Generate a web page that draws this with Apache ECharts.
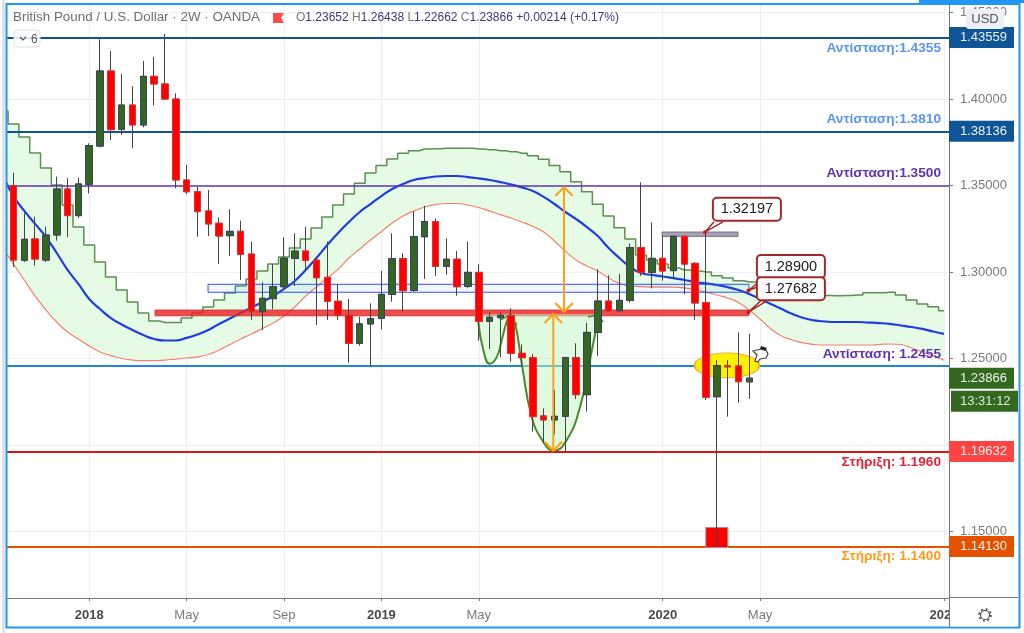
<!DOCTYPE html>
<html>
<head>
<meta charset="utf-8">
<title>GBPUSD 2W</title>
<script src="https://cdn.jsdelivr.net/npm/echarts@6/dist/echarts.min.js"></script>
<style>
html, body { margin: 0; padding: 0; background: #fff; }
#main { width: 1024px; height: 633px; }
</style>
</head>
<body>
<div id="main"></div>
<script>
// two-week candles, x is the bar number
var opens = [1.3499,1.3068,1.3191,1.3069,1.3214,1.3480,1.3326,1.3507,1.3728,1.4162,1.3825,1.3965,1.3850,1.4131,1.4087,1.4000,1.3532,1.3464,1.3353,1.3282,1.3210,1.3235,1.3104,1.2771,1.2846,1.2915,1.3079,1.3121,1.3068,1.2969,1.2831,1.2750,1.2588,1.2700,1.2732,1.2871,1.3077,1.2894,1.3204,1.3291,1.3033,1.3074,1.2917,1.2998,1.2715,1.2736,1.2748,1.2530,1.2505,1.2168,1.2145,1.2166,1.2505,1.2291,1.2651,1.2832,1.2776,1.2836,1.3141,1.2998,1.3079,1.3008,1.3206,1.3050,1.2823,1.2279,1.2458,1.2457,1.23652];
var closes = [1.3069,1.3189,1.3075,1.3214,1.3480,1.3326,1.3509,1.3730,1.4162,1.3823,1.3965,1.3850,1.4131,1.4087,1.4000,1.3532,1.3464,1.3349,1.3278,1.3208,1.3235,1.3102,1.2775,1.2848,1.2915,1.3079,1.3121,1.3068,1.2967,1.2831,1.2752,1.2588,1.2700,1.2730,1.2871,1.3077,1.2892,1.3204,1.3291,1.3033,1.3074,1.2915,1.2998,1.2715,1.2738,1.2750,1.2530,1.2505,1.2164,1.2145,1.2166,1.2505,1.2291,1.2651,1.2832,1.2776,1.2836,1.3141,1.2998,1.3079,1.3006,1.3206,1.3046,1.2821,1.2276,1.2458,1.2452,1.2366,1.23866];
var lows = [1.3029,1.3058,1.3037,1.3058,1.3181,1.3201,1.3312,1.3455,1.3721,1.3763,1.3792,1.3715,1.3836,1.3964,1.3994,1.3484,1.3449,1.3204,1.3208,1.3046,1.3093,1.2954,1.2723,1.2665,1.2784,1.2896,1.2919,1.3012,1.2694,1.2723,1.2723,1.2476,1.2574,1.2457,1.2669,1.2828,1.2775,1.2886,1.2960,1.2977,1.2984,1.2863,1.2906,1.2603,1.2555,1.2507,1.2482,1.2453,1.2077,1.2010,1.2062,1.1961,1.2266,1.2193,1.2516,1.2771,1.2776,1.2823,1.2977,1.2906,1.2950,1.2964,1.2871,1.2723,1.2260,1.1412,1.2164,1.2245,1.22662];
var highs = [1.3574,1.3341,1.3320,1.3262,1.3551,1.3543,1.3545,1.3744,1.4345,1.4279,1.4145,1.4075,1.4220,1.4245,1.4376,1.4033,1.3619,1.3493,1.3474,1.3316,1.3363,1.3297,1.3175,1.2941,1.3045,1.3201,1.3224,1.3262,1.3085,1.3175,1.2929,1.2844,1.2742,1.2819,1.3006,1.3224,1.3108,1.3353,1.3382,1.3310,1.3195,1.3121,1.3175,1.3045,1.2767,1.2765,1.2790,1.2582,1.2526,1.2212,1.2318,1.2510,1.2588,1.2707,1.3016,1.2981,1.2989,1.3166,1.3519,1.3287,1.3210,1.3210,1.3210,1.3056,1.3224,1.2491,1.2491,1.2651,1.26438];

// channel lines, first value is bar -1 (runs off the left edge)
var midLine = [1.3561,1.3439,1.3353,1.3278,1.3202,1.3110,1.3012,1.2931,1.2844,1.2786,1.2734,1.2697,1.2665,1.2636,1.2613,1.2604,1.2604,1.2619,1.2639,1.2665,1.2700,1.2731,1.2763,1.2795,1.2827,1.2861,1.2902,1.2948,1.3012,1.3081,1.3156,1.3226,1.3289,1.3347,1.3393,1.3439,1.3480,1.3509,1.3532,1.3543,1.3552,1.3555,1.3555,1.3549,1.3541,1.3532,1.3520,1.3506,1.3489,1.3468,1.3434,1.3393,1.3347,1.3306,1.3260,1.3208,1.3139,1.3081,1.3029,1.2994,1.2983,1.2974,1.2965,1.2954,1.2942,1.2934,1.2925,1.2913,1.2896,1.2873,1.2844,1.2815,1.2786,1.2757,1.2734,1.2720,1.2714,1.2711,1.2711,1.2711,1.2708,1.2705,1.2700,1.2691,1.2682,1.2671,1.2656,1.2642];
var upperLine = [1.3931,1.3856,1.3780,1.3688,1.3601,1.3503,1.3387,1.3260,1.3156,1.3058,1.2971,1.2896,1.2827,1.2763,1.2717,1.2708,1.2708,1.2734,1.2763,1.2798,1.2838,1.2879,1.2919,1.2960,1.3006,1.3046,1.3087,1.3139,1.3191,1.3254,1.3318,1.3387,1.3451,1.3513,1.3572,1.3615,1.3653,1.3686,1.3701,1.3711,1.3713,1.3715,1.3715,1.3715,1.3711,1.3707,1.3701,1.3695,1.3686,1.3672,1.3652,1.3615,1.3580,1.3522,1.3464,1.3391,1.3324,1.3256,1.3191,1.3098,1.3069,1.3046,1.3023,1.3012,1.3006,1.3000,1.2979,1.2965,1.2950,1.2942,1.2931,1.2913,1.2899,1.2887,1.2876,1.2867,1.2864,1.2863,1.2864,1.2867,1.2880,1.2880,1.2883,1.2867,1.2838,1.2815,1.2799,1.2776];
var lowerLine = [1.3139,1.3046,1.2954,1.2861,1.2780,1.2711,1.2653,1.2613,1.2572,1.2538,1.2517,1.2500,1.2491,1.2488,1.2488,1.2491,1.2497,1.2503,1.2509,1.2523,1.2549,1.2581,1.2613,1.2642,1.2673,1.2705,1.2746,1.2798,1.2861,1.2913,1.2965,1.3017,1.3081,1.3133,1.3185,1.3234,1.3283,1.3324,1.3353,1.3376,1.3390,1.3396,1.3396,1.3387,1.3373,1.3353,1.3332,1.3312,1.3289,1.3263,1.3231,1.3179,1.3121,1.3069,1.3035,1.3006,1.2965,1.2934,1.2919,1.2916,1.2913,1.2913,1.2913,1.2908,1.2896,1.2884,1.2867,1.2850,1.2824,1.2780,1.2728,1.2671,1.2630,1.2607,1.2590,1.2581,1.2578,1.2578,1.2578,1.2578,1.2578,1.2581,1.2584,1.2581,1.2561,1.2538,1.2515,1.2491];

// horizontal levels and their notes
var levels = [1.43559,1.38136,1.35,1.2457,1.19632,1.1413];
var levelColors = ['#0d5596','#0d5596','#5e35b1','#1f86d8','#df1414','#e65100'];
var notes = ['Αντίσταση:1.4355','Αντίσταση:1.3810','Αντίσταση:1.3500','Αντίσταση: 1.2455','Στήριξη: 1.1960','Στήριξη: 1.1400'];
var noteColors = ['#5b96ee','#5b96ee','#5e35b1','#5e35b1','#e0253a','#ff9a18'];
var noteOffsets = [11,-12,-12,-12,11,10];

// price tags on the axis
var tagValues = [1.43559,1.38136,1.23866,1.19632,1.1413];
var tagColors = ['#0d5596','#0d5596','#33691e','#ff4444','#e65100'];
var countdown = '13:31:12';

// time axis
var xTicks = [7,16,25,34,43,60,69,86];
var xTickLabels = ['2018','May','Sep','2019','May','2020','May','2021'];
// 1.20000 sits under the red tag, so it has a grid line but no label
var yTicks = [1.15,1.2,1.25,1.3,1.35,1.4,1.45];
var yLabels = [1.15,1.25,1.3,1.35,1.4,1.45];

// drawn objects, in [bar, price]
var smallCup = [[42.96,1.2712],[43.42,1.2549],[44.01,1.2470],[44.66,1.2508],[45.12,1.2606],[45.58,1.2712],[45.89,1.2755]];
var bigCup = [[45.9,1.2757],[46.35,1.2705],[46.97,1.2472],[47.89,1.2164],[48.96,1.2019],[49.93,1.1967],[51.13,1.2029],[52.36,1.2220],[53.28,1.2491],[54.02,1.2734]];
var gap = [null,null];
var cupHeads = [[44.96,1.2722],[45.88,1.2751],[46.53,1.2694],gap,[53.1,1.2740],[54.0,1.2751],[54.5,1.2711]];
var orangeArrows = [
    [49.89,1.2757],[49.89,1.1967],gap,
    [49.09,1.2705],[49.89,1.2757],[50.69,1.2705],gap,
    [49.09,1.2019],[49.89,1.1967],[50.69,1.2019],gap,
    [50.88,1.3491],[50.88,1.2769],gap,
    [50.08,1.3439],[50.88,1.3491],[51.68,1.3439],gap,
    [50.08,1.2821],[50.88,1.2769],[51.68,1.2821]
];
var zones = [
    {x: [13.08,67.97], y: [1.2780,1.2747], fill: 'rgba(240,30,30,0.8)', edge: '#c83c3c'},
    {x: [17.98,67.97], y: [1.2929,1.2883], fill: 'rgba(70,100,255,0.06)', edge: '#3050ff'},
    {x: [59.94,66.96], y: [1.3231,1.3206], fill: '#a8a0b8', edge: '#77727f'}
];
var ellipseAt = [65.94,1.2460];
var squareAt = [65,1.1465];
var calloutValues = ['1.32197','1.28900','1.27682'];
var calloutAt = [[63.9,1.3230],[67.92,1.2893],[67.92,1.2768]];
var calloutOffsets = [[42,-23],[42.5,-24],[42.5,-23.5]];
var calloutStems = [
    [64.74,1.3290],[63.9,1.3230],[65.57,1.3290],gap,
    [68.8,1.2938],[67.92,1.2893],[68.8,1.2915],gap,
    [69.15,1.2838],[67.92,1.2768],[69.74,1.2838]
];

var yMin = 1.11157, yMax = 1.45492;
var xMin = -0.6, xMax = 86.46;

function byBar(list) {
    return list.map(function (v, i) { return [i - 1, v]; });
}

var candleRows = opens.map(function (o, i) { return [i, o, closes[i], lows[i], highs[i]]; });
var bodyRows = opens.map(function (o, i) {
    return [i, o, closes[i], Math.min(o, closes[i]), Math.max(o, closes[i])];
});

// one slice of cloud per bar: flat on top like the step line, sloped along the lower line
var cloudRows = upperLine.map(function (v, i) {
    var before = i > 0 ? lowerLine[i - 1] : lowerLine[i];
    var after = i < lowerLine.length - 1 ? lowerLine[i + 1] : lowerLine[i];
    return [i - 1, v, (lowerLine[i] + before) / 2, (lowerLine[i] + after) / 2, i < lowerLine.length - 1 ? 0.5 : 0];
});

function renderCloud(params, api) {
    var bar = api.value(0);
    var a = api.coord([bar - 0.5, api.value(1)]);
    var b = api.coord([bar + api.value(4), api.value(1)]);
    var c = api.coord([bar + api.value(4), api.value(3)]);
    var d = api.coord([bar - 0.5, api.value(2)]);
    return {
        type: 'polygon',
        shape: { points: [a, b, c, d] },
        style: { fill: '#e6fbe6', stroke: '#e6fbe6', lineWidth: 0.6 }
    };
}

var myChart = echarts.init(document.getElementById('main'));

var option = {
    animation: false,
    textStyle: { fontFamily: 'Liberation Sans' },
    title: [
        {
            text: 'British Pound / U.S. Dollar · 2W · OANDA',
            left: 13, top: 11, padding: 0,
            textStyle: { fontSize: 13.4, fontWeight: 'normal', color: '#6e6e6e', fontFamily: 'Liberation Sans' }
        },
        {
            text: '{k|O}{v|1.23652} {k|H}{v|1.26438} {k|L}{v|1.22662} {k|C}{v|1.23866} {v|+0.00214 (+0.17%)}',
            left: 296, top: 12, padding: 0,
            textStyle: {
                fontSize: 12, fontWeight: 'normal', fontFamily: 'Liberation Sans',
                rich: {
                    k: { color: '#777', fontSize: 12, fontFamily: 'Liberation Sans' },
                    v: { color: '#3f3a78', fontSize: 12, fontFamily: 'Liberation Sans' }
                }
            }
        }
    ],
    grid: { left: 7, right: 75, top: 4, bottom: 35 },
    xAxis: {
        type: 'value',
        min: xMin,
        max: xMax,
        axisLine: { onZero: false, lineStyle: { color: '#777', width: 1 } },
        axisTick: { length: 3, lineStyle: { color: '#777' }, customValues: xTicks },
        splitLine: { show: true, lineStyle: { color: '#e8eff6', width: 1 } },
        axisLabel: {
            customValues: xTicks,
            margin: 11,
            fontSize: 13,
            formatter: function (v) {
                var t = xTickLabels[xTicks.indexOf(v)];
                return /^\d/.test(t) ? '{y|' + t + '}' : '{m|' + t + '}';
            },
            rich: {
                y: { fontWeight: 'bold', color: '#4a4a4a', fontSize: 13, fontFamily: 'Liberation Sans' },
                m: { color: '#7b7b7b', fontSize: 13, fontFamily: 'Liberation Sans' }
            }
        }
    },
    yAxis: {
        type: 'value',
        position: 'right',
        min: yMin,
        max: yMax,
        axisLine: { show: true, onZero: false, lineStyle: { color: '#777', width: 1 } },
        axisTick: { show: true, length: 4, lineStyle: { color: '#777' }, customValues: yTicks },
        splitLine: { show: true, lineStyle: { color: '#eef2f7', width: 1 } },
        axisLabel: {
            customValues: yLabels,
            margin: 11,
            fontSize: 13,
            color: '#7b7b7b',
            formatter: function (v) { return v.toFixed(5); }
        }
    },
    series: [
        {
            type: 'custom', z: 2, clip: true, silent: true, renderItem: renderCloud,
            encode: { x: 0, y: 1 }, data: cloudRows
        },
        {
            type: 'line', step: 'middle', z: 3, symbol: 'none',
            lineStyle: { color: '#5d9050', width: 1.5 }, data: byBar(upperLine)
        },
        {
            type: 'line', smooth: true, z: 3, symbol: 'none',
            lineStyle: { color: '#f58070', width: 1.2 }, data: byBar(lowerLine)
        },
        {
            type: 'line', smooth: true, z: 3, symbol: 'none',
            lineStyle: { color: '#1e3de0', width: 2.2 }, data: byBar(midLine)
        },
        // levels and zones
        {
            type: 'line', z: 4, symbol: 'none', data: [],
            markLine: {
                z: 4, silent: true, symbol: 'none', animation: false, precision: 5,
                label: { show: false },
                data: levels.map(function (v, i) {
                    return { yAxis: v, lineStyle: { color: levelColors[i], width: i == 2 ? 1.6 : 2, type: 'solid' } };
                })
            },
            markArea: {
                z: 4, silent: true, animation: false,
                data: zones.map(function (b) {
                    return [
                        { coord: [b.x[0], b.y[0]], itemStyle: { color: b.fill, borderColor: b.edge, borderWidth: 1 } },
                        { coord: [b.x[1], b.y[1]] }
                    ];
                })
            }
        },
        // the two cups
        {
            type: 'line', smooth: true, z: 4, symbol: 'none', data: smallCup,
            lineStyle: { color: '#4a8a2a', width: 2 },
            areaStyle: { color: 'rgba(195,245,195,0.75)', origin: 1.2757 }
        },
        {
            type: 'line', smooth: true, z: 4, symbol: 'none', data: bigCup,
            lineStyle: { color: '#4a8a2a', width: 2 },
            areaStyle: { color: 'rgba(195,245,195,0.75)', origin: 1.2757 }
        },
        {
            type: 'line', z: 4, symbol: 'none', data: cupHeads,
            lineStyle: { color: '#4a8a2a', width: 1.5 }
        },
        {
            type: 'scatter', z: 5, symbol: 'circle', symbolSize: [65, 25], data: [ellipseAt],
            itemStyle: { color: '#ffef00', borderColor: '#f0a030', borderWidth: 1, opacity: 1 }
        },
        {
            type: 'scatter', z: 5, symbol: 'rect', symbolSize: [22, 20], data: [squareAt],
            itemStyle: { color: '#ff0000', borderColor: '#b98a8a', borderWidth: 1, opacity: 1 }
        },
        // candles: first pass gives the dark wicks, second pass the bodies
        {
            type: 'candlestick', z: 6, barWidth: 7, data: candleRows,
            encode: { x: 0, y: [1, 2, 3, 4] },
            itemStyle: { color: '#33691e', color0: '#ff0000', borderColor: '#444', borderColor0: '#444', borderWidth: 1 }
        },
        {
            type: 'candlestick', z: 6, barWidth: 7, data: bodyRows,
            encode: { x: 0, y: [1, 2, 3, 4] },
            itemStyle: { color: '#33691e', color0: '#ff0000', borderColor: '#3d3f6a', borderColor0: '#e83030', borderWidth: 1 }
        },
        {
            type: 'line', z: 7, symbol: 'none', data: orangeArrows,
            lineStyle: { color: '#ff9f14', width: 2 }
        },
        // callouts
        {
            type: 'line', z: 8, symbol: 'none', data: calloutStems,
            lineStyle: { color: '#a12a2a', width: 1.5 }
        },
        {
            type: 'line', z: 9, symbol: 'none', data: [],
            markPoint: {
                z: 9, silent: true, animation: false, symbol: 'circle', symbolSize: 4,
                itemStyle: { color: '#c02020' },
                data: calloutValues.map(function (v, i) {
                    return {
                        coord: calloutAt[i],
                        label: {
                            show: true, formatter: v, offset: calloutOffsets[i], position: 'inside',
                            width: 62, height: 17, lineHeight: 17, align: 'center', verticalAlign: 'middle',
                            backgroundColor: '#fff', borderColor: '#a12a2a', borderWidth: 2, borderRadius: 3,
                            padding: [2, 2], color: '#222', fontSize: 14.5, fontFamily: 'Liberation Sans'
                        }
                    };
                })
            }
        },
        // level notes and axis tags
        {
            type: 'line', z: 10, symbol: 'none', data: [],
            markPoint: {
                z: 10, silent: true, animation: false, symbol: 'circle', symbolSize: 0,
                data: notes.map(function (t, i) {
                    return {
                        coord: [85.72, levels[i]],
                        label: {
                            show: true, formatter: t, position: 'left', distance: 0, offset: [0, noteOffsets[i]],
                            color: noteColors[i], fontSize: 13.7, fontWeight: 'bold', fontFamily: 'Liberation Sans'
                        }
                    };
                })
            }
        },
        {
            type: 'line', z: 20, symbol: 'none', data: [],
            markPoint: {
                z: 20, silent: true, animation: false, symbol: 'circle', symbolSize: 0,
                data: tagValues.map(function (v, i) {
                    return {
                        coord: [xMax, v],
                        label: {
                            show: true, formatter: v.toFixed(5), position: 'right', distance: 0,
                            backgroundColor: tagColors[i], color: '#eef3ee', fontSize: 13,
                            fontFamily: 'Liberation Sans', width: 47, height: 21, lineHeight: 21,
                            padding: [0, 7, 0, 11], verticalAlign: 'middle'
                        }
                    };
                }).concat([{
                    coord: [xMax, 1.23866],
                    label: {
                        show: true, formatter: countdown, position: 'right', distance: 0, offset: [2, 23],
                        backgroundColor: '#33691e', color: '#dfe8da', fontSize: 13,
                        fontFamily: 'Liberation Sans', width: 51, height: 21, lineHeight: 21,
                        padding: [0, 7, 0, 9], verticalAlign: 'middle'
                    }
                }])
            }
        }
    ],
    graphic: [
        // bottom right corner hides the end of the last date label
        { type: 'rect', z: 100, shape: { x: 950, y: 598.5, width: 68, height: 28 }, style: { fill: '#fff' } },
        { type: 'line', z: 100, shape: { x1: 949.5, y1: 598, x2: 949.5, y2: 627 }, style: { stroke: '#777', lineWidth: 1 } },
        { type: 'line', z: 100, shape: { x1: 950, y1: 597.5, x2: 1018, y2: 597.5 }, style: { stroke: '#777', lineWidth: 1 } },
        { type: 'rect', z: 100, shape: { x: 966, y: 9, width: 38, height: 20, r: 3 }, style: { fill: '#eef0f8' } },
        { type: 'text', z: 101, x: 985, y: 19, style: { text: 'USD', fill: '#555', font: '13px "Liberation Sans"', align: 'center', verticalAlign: 'middle' } },
        { type: 'circle', z: 101, shape: { cx: 985, cy: 615, r: 4.5 }, style: { fill: 'none', stroke: '#444', lineWidth: 1.2 } },
        { type: 'circle', z: 101, shape: { cx: 985, cy: 615, r: 6 }, style: { fill: 'none', stroke: '#444', lineWidth: 1.5, lineDash: [2, 2.7] } },
        // frame
        { type: 'rect', z: 90, shape: { x: 0, y: 0, width: 6, height: 633 }, style: { fill: '#fff' } },
        { type: 'rect', z: 91, shape: { x: 2, y: 0, width: 3, height: 633 }, style: { fill: '#e2e2e6' } },
        { type: 'rect', z: 92, shape: { x: 6.5, y: 4, width: 1013, height: 623.5 }, style: { fill: 'none', stroke: '#2196f3', lineWidth: 2 } },
        { type: 'rect', z: 92, shape: { x: 919, y: 0, width: 105, height: 3 }, style: { fill: '#2196f3' } },
        // legend flag and collapse button
        { type: 'polygon', z: 95, shape: { points: [[273, 13], [284, 13], [281, 18], [284, 23], [273, 23]] }, style: { fill: '#ff4a4a' } },
        { type: 'rect', z: 95, shape: { x: 14, y: 30, width: 26, height: 17, r: 3 }, style: { fill: 'rgba(255,255,255,0.85)', stroke: '#dfe2ea', lineWidth: 1 } },
        { type: 'polyline', z: 96, shape: { points: [[20, 37], [23, 40], [26, 37]] }, style: { fill: 'none', stroke: '#555', lineWidth: 1.2 } },
        { type: 'text', z: 96, x: 31, y: 34, style: { text: '6', fill: '#555', font: '12px "Liberation Sans"' } },
        // hand cursor
        { type: 'polygon', z: 96, shape: { points: [[753, 351], [761, 349], [766, 350], [768, 354], [766, 358], [760, 359], [758, 362], [755, 361], [757, 355]] }, style: { fill: '#fff', stroke: '#444', lineWidth: 1.2 } },
        { type: 'polygon', z: 97, shape: { points: [[761, 346], [767, 348], [765, 351], [760, 349]] }, style: { fill: '#222' } }
    ]
};

myChart.setOption(option);
</script>
</body>
</html>
